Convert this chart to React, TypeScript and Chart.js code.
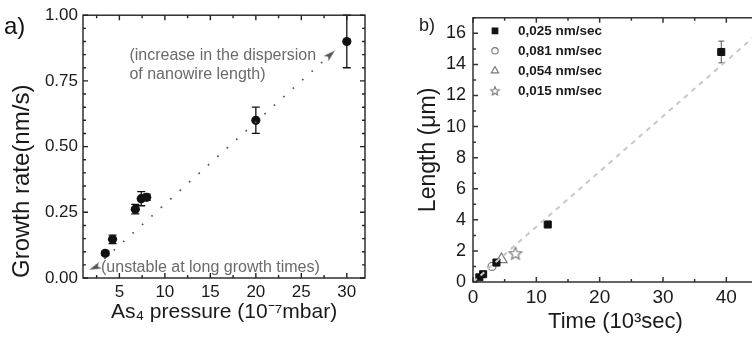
import React, { useEffect, useRef } from 'react';
import { Chart, registerables } from 'chart.js';
import { drawPoint } from 'chart.js/helpers';
Chart.register(...registerables);

// ---------- Panel a data ----------
const pressure = [3.45, 4.25, 6.75, 7.4, 8.0, 20, 30];
const growthRate = [0.094, 0.147, 0.262, 0.302, 0.307, 0.6, 0.9];
const growthErr = [0.008, 0.016, 0.018, 0.027, 0.012, 0.05, 0.1];
const trendPressure = [2.3, 28.2];
const trendRate = [0.04, 0.85];
const pressureTicks = [5, 10, 15, 20, 25, 30];
const rateTicks = [0, 0.25, 0.5, 0.75, 1.0];
const noteUpper = ['(increase in the dispersion', 'of nanowire length)'];
const noteLower = '(unstable at long growth times)';

// ---------- Panel b data ----------
const legendLabels = ['0,025 nm/sec', '0,081 nm/sec', '0,054 nm/sec', '0,015 nm/sec'];
const timeSq = [1.0, 1.6, 3.7, 11.8, 39.2];
const lengthSq = [0.3, 0.5, 1.25, 3.7, 14.8];
const errSq = [0.05, 0.05, 0.05, 0.1, 0.7];
const timeCircle = [3.0];
const lengthCircle = [1.0];
const timeTri = [4.5];
const lengthTri = [1.45];
const timeStar = [6.7];
const lengthStar = [1.85];
const fitTime = [0, 45];
const fitLength = [0, 16];
const timeTicks = [0, 10, 20, 30, 40];
const lengthTicks = [0, 2, 4, 6, 8, 10, 12, 14, 16];

const FONT = "'Liberation Sans', Arial, Helvetica, sans-serif";

const pts = (xs: number[], ys: number[]) => xs.map((x, i) => ({ x, y: ys[i] }));

function makeStar(r: number, color: string, lw: number) {
  const size = Math.ceil(2 * r + lw * 2 + 2);
  const c = document.createElement('canvas');
  c.width = size;
  c.height = size;
  const g = c.getContext('2d')!;
  g.translate(size / 2, size / 2 + r * 0.1);
  g.beginPath();
  for (let i = 0; i < 10; i++) {
    const rr = i % 2 === 0 ? r : r * 0.45;
    const a = -Math.PI / 2 + (i * Math.PI) / 5;
    g.lineTo(rr * Math.cos(a), rr * Math.sin(a));
  }
  g.closePath();
  g.fillStyle = '#fff';
  g.fill();
  g.strokeStyle = color;
  g.lineWidth = lw;
  g.stroke();
  return c;
}

function makeArrowHead(color: string) {
  const w = 7, h = 12;
  const c = document.createElement('canvas');
  c.width = w;
  c.height = h;
  const g = c.getContext('2d')!;
  g.beginPath();
  g.moveTo(w / 2, 0);
  g.lineTo(w, h);
  g.lineTo(w / 2, h - 3);
  g.lineTo(0, h);
  g.closePath();
  g.fillStyle = color;
  g.fill();
  return c;
}

type FrameCfg = {
  xMinor: number; xMajor: number; yMinor: number; yMajor: number;
  major: number; minor: number; color: string; width: number;
};

function framePlugin(cfg: FrameCfg) {
  return {
    id: 'frame',
    afterDatasetsDraw(chart: any) {
      const { ctx, chartArea: a, scales } = chart;
      const xs = scales.x, ys = scales.y;
      ctx.save();
      ctx.strokeStyle = cfg.color;
      ctx.lineWidth = cfg.width;
      ctx.strokeRect(a.left, a.top, a.right - a.left, a.bottom - a.top);
      const isMajor = (v: number, m: number) => Math.abs(v / m - Math.round(v / m)) < 1e-6;
      ctx.beginPath();
      const i0 = Math.ceil(xs.min / cfg.xMinor - 1e-9);
      for (let i = i0; i * cfg.xMinor <= xs.max + 1e-9; i++) {
        const v = i * cfg.xMinor;
        const px = xs.getPixelForValue(v);
        const L = isMajor(v, cfg.xMajor) ? cfg.major : cfg.minor;
        ctx.moveTo(px, a.bottom); ctx.lineTo(px, a.bottom - L);
        ctx.moveTo(px, a.top); ctx.lineTo(px, a.top + L);
      }
      const j0 = Math.ceil(ys.min / cfg.yMinor - 1e-9);
      for (let j = j0; j * cfg.yMinor <= ys.max + 1e-9; j++) {
        const v = j * cfg.yMinor;
        const py = ys.getPixelForValue(v);
        const L = isMajor(v, cfg.yMajor) ? cfg.major : cfg.minor;
        ctx.moveTo(a.left, py); ctx.lineTo(a.left + L, py);
        ctx.moveTo(a.right, py); ctx.lineTo(a.right - L, py);
      }
      ctx.stroke();
      ctx.restore();
    },
  };
}

function errorBarPlugin(color: string, cap: number, lw: number) {
  return {
    id: 'errbars',
    beforeDatasetsDraw(chart: any) {
      const { ctx, scales } = chart;
      ctx.save();
      ctx.strokeStyle = color;
      ctx.lineWidth = lw;
      chart.data.datasets.forEach((ds: any) => {
        if (!ds.errors) return;
        ds.data.forEach((p: any, i: number) => {
          const e = ds.errors[i];
          if (!e) return;
          const px = scales.x.getPixelForValue(p.x);
          const top = scales.y.getPixelForValue(p.y + e);
          const bot = scales.y.getPixelForValue(p.y - e);
          ctx.beginPath();
          ctx.moveTo(px, top); ctx.lineTo(px, bot);
          ctx.moveTo(px - cap, top); ctx.lineTo(px + cap, top);
          ctx.moveTo(px - cap, bot); ctx.lineTo(px + cap, bot);
          ctx.stroke();
        });
      });
      ctx.restore();
    },
  };
}

export default function App() {
  const refA = useRef<HTMLCanvasElement>(null);
  const refB = useRef<HTMLCanvasElement>(null);

  useEffect(() => {
    const arrow = makeArrowHead('#555');
    const trendAngle = (ctx: any) => {
      const ch = ctx.chart;
      const xs = ch.scales.x, ys = ch.scales.y;
      const dx = xs.getPixelForValue(trendPressure[1]) - xs.getPixelForValue(trendPressure[0]);
      const dy = ys.getPixelForValue(trendRate[1]) - ys.getPixelForValue(trendRate[0]);
      const ang = (Math.atan2(dx, -dy) * 180) / Math.PI;
      return ctx.dataIndex === 1 ? ang : ang + 200;
    };

    const notesPlugin = {
      id: 'notes',
      afterDraw(chart: any) {
        const { ctx, scales } = chart;
        const xs = scales.x, ys = scales.y;
        ctx.save();
        ctx.fillStyle = '#6a6a6a';
        ctx.font = `16px ${FONT}`;
        ctx.textBaseline = 'middle';
        ctx.textAlign = 'left';
        ctx.fillText(noteUpper[0], xs.getPixelForValue(6.1), ys.getPixelForValue(0.846));
        ctx.fillText(noteUpper[1], xs.getPixelForValue(6.1), ys.getPixelForValue(0.774));
        ctx.fillText(noteLower, xs.getPixelForValue(2.98), ys.getPixelForValue(0.038));
        ctx.fillStyle = '#111';
        ctx.font = `24px ${FONT}`;
        ctx.fillText('a)', 4, 27);
        ctx.restore();
      },
    };

    const chartA = new Chart(refA.current!, {
      type: 'scatter',
      data: {
        datasets: [
          {
            label: 'trend',
            data: pts(trendPressure, trendRate),
            showLine: true,
            borderColor: '#555',
            borderWidth: 1.7,
            borderDash: [1.7, 11],
            pointStyle: arrow as any,
            pointRadius: 6,
            pointRotation: trendAngle as any,
            clip: false as any,
          },
          {
            label: 'growth',
            data: pts(pressure, growthRate),
            errors: growthErr,
            pointStyle: 'circle',
            pointRadius: 4.6,
            backgroundColor: '#111',
            borderColor: '#111',
            borderWidth: 0,
          } as any,
        ],
      },
      options: {
        responsive: false,
        animation: false,
        layout: { padding: { top: 12, right: 11, left: 0, bottom: 0 } },
        plugins: { legend: { display: false }, tooltip: { enabled: false } },
        scales: {
          x: {
            type: 'linear',
            min: 1,
            max: 32,
            afterBuildTicks: (s: any) => { s.ticks = pressureTicks.map((v) => ({ value: v })); },
            afterFit: (s: any) => { s.height = 60; },
            grid: { display: false, drawTicks: false },
            border: { display: false },
            ticks: { font: { family: FONT, size: 17 }, color: '#1a1a1a', padding: 4, maxRotation: 0 },
            title: {
              display: true,
              text: 'As\u2084 pressure (10\u207B\u2077mbar)',
              font: { family: FONT, size: 21 },
              color: '#1a1a1a',
              padding: { top: 0, bottom: 13 },
            },
          },
          y: {
            type: 'linear',
            min: 0,
            max: 1,
            afterBuildTicks: (s: any) => { s.ticks = rateTicks.map((v) => ({ value: v })); },
            afterFit: (s: any) => { s.width = 83; },
            grid: { display: false, drawTicks: false },
            border: { display: false },
            ticks: {
              font: { family: FONT, size: 17 },
              color: '#1a1a1a',
              padding: 5,
              callback: (v: any) => Number(v).toFixed(2),
            },
            title: {
              display: true,
              text: 'Growth rate(nm/s)',
              align: 'start',
              font: { family: FONT, size: 24 },
              color: '#1a1a1a',
              padding: { top: 8, bottom: 0 },
            },
          },
        },
      },
      plugins: [
        errorBarPlugin('#111', 4, 1.3),
        framePlugin({ xMinor: 2.5, xMajor: 5, yMinor: 0.05, yMajor: 0.25, major: 5, minor: 3, color: '#222', width: 1.4 }),
        notesPlugin,
      ],
    });

    const star = makeStar(6.5, '#777', 1.2);
    const starSmall = makeStar(4.5, '#777', 1.1);

    const legendPlugin = {
      id: 'legendB',
      afterDraw(chart: any) {
        const { ctx, chartArea: a } = chart;
        ctx.save();
        const styles = [
          { pointStyle: 'rect', radius: 4, fill: '#111', stroke: '#111' },
          { pointStyle: 'circle', radius: 3.2, fill: '#fff', stroke: '#777' },
          { pointStyle: 'triangle', radius: 4.2, fill: '#fff', stroke: '#777' },
          { pointStyle: starSmall, radius: 4, fill: '#fff', stroke: '#777' },
        ];
        legendLabels.forEach((lab, i) => {
          const y = a.top + 13 + i * 20;
          const x = a.left + 22;
          const s = styles[i];
          ctx.fillStyle = s.fill;
          ctx.strokeStyle = s.stroke;
          ctx.lineWidth = 1.1;
          drawPoint(ctx, { pointStyle: s.pointStyle as any, rotation: 0, radius: s.radius, borderWidth: 1.1 }, x, y);
          ctx.fillStyle = '#1a1a1a';
          ctx.font = `bold 13.5px ${FONT}`;
          ctx.textBaseline = 'middle';
          ctx.textAlign = 'left';
          ctx.fillText(lab, a.left + 45, y);
        });
        ctx.fillStyle = '#1a1a1a';
        ctx.font = `18px ${FONT}`;
        ctx.fillText('b)', 43, 26);
        ctx.restore();
      },
    };

    const chartB = new Chart(refB.current!, {
      type: 'scatter',
      data: {
        datasets: [
          {
            label: 'fit',
            data: pts(fitTime, fitLength),
            showLine: true,
            borderColor: '#c8c8c8',
            borderWidth: 2,
            borderDash: [5, 5],
            pointRadius: 0,
          },
          {
            label: legendLabels[0],
            data: pts(timeSq, lengthSq),
            errors: errSq,
            pointStyle: 'rect',
            pointRadius: 5,
            backgroundColor: '#111',
            borderColor: '#111',
            borderWidth: 1,
          } as any,
          {
            label: legendLabels[1],
            data: pts(timeCircle, lengthCircle),
            pointStyle: 'circle',
            pointRadius: 4,
            backgroundColor: '#fff',
            borderColor: '#777',
            borderWidth: 1.2,
          },
          {
            label: legendLabels[2],
            data: pts(timeTri, lengthTri),
            pointStyle: 'triangle',
            pointRadius: 6.5,
            backgroundColor: '#fff',
            borderColor: '#777',
            borderWidth: 1.2,
          },
          {
            label: legendLabels[3],
            data: pts(timeStar, lengthStar),
            pointStyle: star as any,
            pointRadius: 6,
            backgroundColor: '#fff',
            borderColor: '#777',
            borderWidth: 1.2,
          },
        ],
      },
      options: {
        responsive: false,
        animation: false,
        layout: { padding: { top: 10, right: 38, left: 0, bottom: 0 } },
        plugins: { legend: { display: false }, tooltip: { enabled: false } },
        scales: {
          x: {
            type: 'linear',
            min: 0,
            max: 45,
            afterBuildTicks: (s: any) => { s.ticks = timeTicks.map((v) => ({ value: v })); },
            afterFit: (s: any) => { s.height = 56; },
            grid: { display: false, drawTicks: false },
            border: { display: false },
            ticks: { font: { family: FONT, size: 19 }, color: '#1a1a1a', padding: 4, maxRotation: 0 },
            title: {
              display: true,
              text: 'Time (10\u00B3sec)',
              font: { family: FONT, size: 22 },
              color: '#1a1a1a',
              padding: { top: 0, bottom: 3 },
            },
          },
          y: {
            type: 'linear',
            min: 0,
            max: 17,
            afterBuildTicks: (s: any) => { s.ticks = lengthTicks.map((v) => ({ value: v })); },
            afterFit: (s: any) => { s.width = 97; },
            grid: { display: false, drawTicks: false },
            border: { display: false },
            ticks: { font: { family: FONT, size: 18 }, color: '#1a1a1a', padding: 7 },
            title: {
              display: true,
              text: 'Length (\u03BCm)',
              font: { family: FONT, size: 23 },
              color: '#1a1a1a',
              padding: { top: 39, bottom: 0 },
            },
          },
        },
      },
      plugins: [
        errorBarPlugin('#555', 3, 1),
        framePlugin({ xMinor: 5, xMajor: 10, yMinor: 1, yMajor: 2, major: 5, minor: 3, color: '#333', width: 1.5 }),
        legendPlugin,
      ],
    });

    return () => {
      chartA.destroy();
      chartB.destroy();
    };
  }, []);

  return (
    <div style={{ position: 'absolute', left: 0, top: 0, width: 752, height: 338, overflow: 'hidden', background: '#fff' }}>
      <div style={{ position: 'absolute', left: 0, top: 0, width: 376, height: 338 }}>
        <canvas ref={refA} width={376} height={338} />
      </div>
      <div style={{ position: 'absolute', left: 376, top: 0, width: 420, height: 338 }}>
        <canvas ref={refB} width={420} height={338} />
      </div>
    </div>
  );
}
